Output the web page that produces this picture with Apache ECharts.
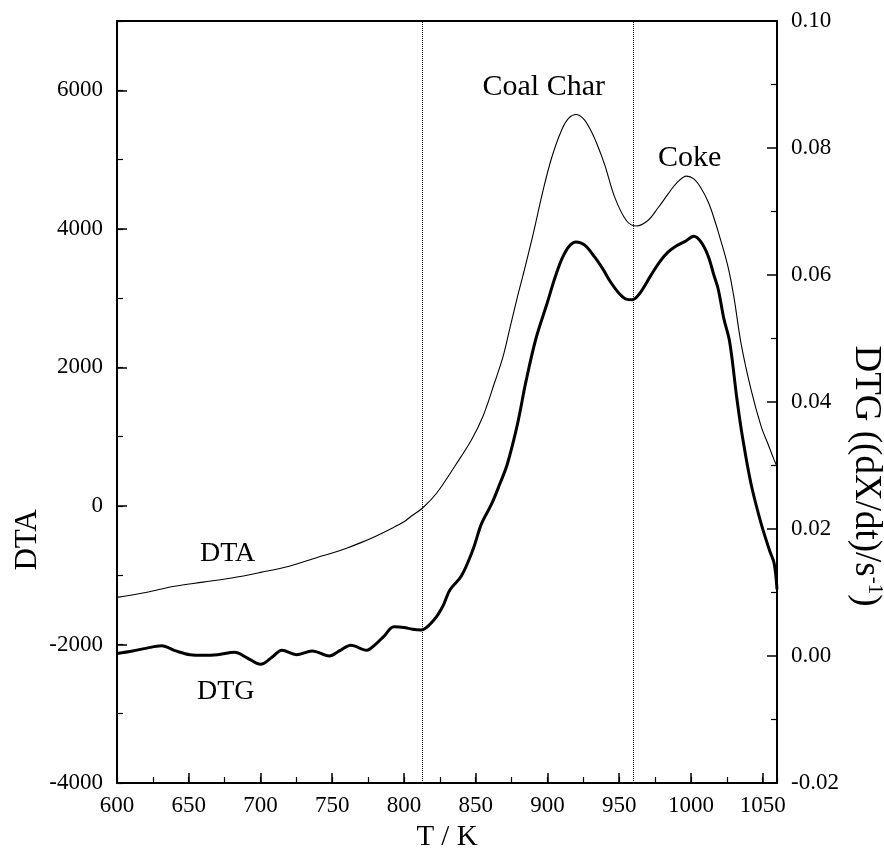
<!DOCTYPE html>
<html>
<head>
<meta charset="utf-8">
<script src="https://cdn.jsdelivr.net/npm/echarts@6/dist/echarts.min.js"></script>
<style>
html,body{margin:0;padding:0;background:#fff;}
#c{width:884px;height:857px;}
</style>
</head>
<body>
<div id="c"></div>
<script>
// ---- data ----
var dtaT = [600,620,640,660,680,700,720,740,750,760,770,780,790,800,805,813,823,836,847,855,863,869,874,879,883,890,897,903,910,915,920,925,930,935,940,947,955,962,970,977,984,990,997,1002,1007,1012,1016,1021,1026,1030,1035,1042,1049,1054,1058,1060];
var dtaV = [-1320,-1250,-1160,-1100,-1040,-960,-870,-740,-680,-610,-530,-440,-340,-230,-150,-30,190,590,950,1290,1770,2150,2580,3010,3330,3920,4560,5030,5430,5600,5650,5590,5430,5200,4920,4450,4120,4040,4120,4300,4500,4660,4760,4720,4590,4390,4160,3820,3440,3010,2340,1670,1145,880,664,570];

var dtgT = [600,611,620,631,641,651,660,670,682,690,700,708,715,725,736,748,755,763,774,780,786,793,800,806,812,821,827,832,840,848,854,861,867,872,879,885,892,900,905,910,915,920,926,933,939,944,950,955,959,964,972,978,984,990,996,1002,1007,1012,1016,1019,1023,1027,1032,1036,1042,1049,1055,1058,1060];
var dtgV = [0.0004,0.0008,0.0012,0.0016,0.0008,0.0002,0.0001,0.0002,0.0006,-0.0002,-0.0013,-0.0002,0.0009,0.0002,0.0008,0.0000,0.0008,0.0017,0.0009,0.0018,0.0031,0.0046,0.0045,0.0042,0.0041,0.0057,0.0078,0.0104,0.0126,0.0167,0.0208,0.0239,0.0272,0.0302,0.0364,0.0432,0.0500,0.0557,0.0594,0.0625,0.0645,0.0652,0.0647,0.0628,0.0608,0.0589,0.0571,0.0562,0.0561,0.0570,0.0599,0.0620,0.0636,0.0646,0.0653,0.0661,0.0652,0.0630,0.0600,0.0578,0.0531,0.0495,0.0406,0.0344,0.0270,0.0208,0.0165,0.0146,0.0105];

var markerT = [813, 960];
var xTicks = {min: 600, max: 1060, step: 50, minorStep: 25};
var yLeft = {min: -4000, max: 7000, step: 2000, minorStep: 1000};
var yRight = {min: -0.02, max: 0.10, step: 0.02};

// ---- chart ----
var FONT = '"Liberation Serif", "DejaVu Serif", serif';
var dtaData = dtaT.map(function (t, i) { return [t, dtaV[i]]; });
var dtgData = dtgT.map(function (t, i) { return [t, dtgV[i]]; });

var chart = echarts.init(document.getElementById('c'), null, {renderer: 'canvas'});

var LINE = {show: true, onZero: false, lineStyle: {color: '#000', width: 2}};
var NOLINE = {show: false, onZero: false};
var MAJOR = {show: true, inside: true, length: 10, lineStyle: {color: '#000', width: 1.5}};
var MINOR = {show: true, inside: true, length: 6, lineStyle: {color: '#000', width: 1.2}};

var xMain = {
  type: 'value', position: 'bottom', min: xTicks.min, max: xTicks.max, interval: xTicks.step,
  axisLine: LINE, axisTick: MAJOR, splitLine: {show: false},
  name: 'T / K', nameLocation: 'middle', nameGap: 40,
  nameTextStyle: {fontFamily: FONT, fontSize: 29, color: '#000'},
  axisLabel: {fontFamily: FONT, fontSize: 23, color: '#000', margin: 11,
    formatter: function (v) { return v > 1050 ? '' : String(v); }}
};
var xMinor = {
  type: 'value', position: 'bottom', min: xTicks.min, max: xTicks.max, interval: xTicks.minorStep,
  axisLine: NOLINE, axisTick: MINOR, axisLabel: {show: false}, splitLine: {show: false}
};
var xTop = {
  type: 'value', position: 'top', min: xTicks.min, max: xTicks.max,
  axisLine: LINE, axisTick: {show: false}, axisLabel: {show: false}, splitLine: {show: false}
};
var yL = {
  type: 'value', position: 'left', min: yLeft.min, max: yLeft.max, interval: yLeft.step,
  axisLine: LINE, axisTick: MAJOR, splitLine: {show: false},
  axisLabel: {fontFamily: FONT, fontSize: 23, color: '#000', margin: 14,
    formatter: function (v) { return v > 6000 ? '' : String(v); }}
};
var yLMinor = {
  type: 'value', position: 'left', min: yLeft.min, max: yLeft.max, interval: yLeft.minorStep,
  axisLine: NOLINE, axisTick: MINOR, axisLabel: {show: false}, splitLine: {show: false}
};
var yR = {
  type: 'value', position: 'right', min: yRight.min, max: yRight.max, interval: yRight.step,
  axisLine: LINE, axisTick: MAJOR, splitLine: {show: false},
  minorTick: {show: true, splitNumber: 2, length: 6, lineStyle: {color: '#000', width: 1.2}},
  axisLabel: {fontFamily: FONT, fontSize: 23, color: '#000', margin: 14,
    formatter: function (v) { return (Math.round(v * 100) / 100).toFixed(2); }}
};

var option = {
  backgroundColor: '#fff',
  animation: false,
  grid: {left: 117, right: 107, top: 21, bottom: 69, containLabel: false},
  xAxis: [xMain, xTop, xMinor],
  yAxis: [yL, yR, yLMinor],
  series: [
    {
      name: 'DTA', type: 'line', xAxisIndex: 0, yAxisIndex: 0,
      data: dtaData, showSymbol: false, smooth: 0.35,
      lineStyle: {color: '#000', width: 1.1}, silent: true,
      markLine: {
        silent: true, symbol: ['none', 'none'], label: {show: false},
        lineStyle: {color: '#000', type: 'dotted', width: 1},
        data: markerT.map(function (t) { return {xAxis: t}; })
      }
    },
    {
      name: 'DTG', type: 'line', xAxisIndex: 0, yAxisIndex: 1,
      data: dtgData, showSymbol: false, smooth: 0.35,
      lineStyle: {color: '#000', width: 3}, silent: true
    }
  ],
  graphic: [
    {type: 'text', x: 200, y: 554, style: {text: 'DTA', font: '28px ' + FONT, fill: '#000', align: 'left', verticalAlign: 'middle'}},
    {type: 'text', x: 197, y: 692, style: {text: 'DTG', font: '28px ' + FONT, fill: '#000', align: 'left', verticalAlign: 'middle'}},
    {type: 'text', x: 605, y: 87, style: {text: 'Coal Char', font: '30px ' + FONT, fill: '#000', align: 'right', verticalAlign: 'middle'}},
    {type: 'text', x: 658, y: 158, style: {text: 'Coke', font: '30px ' + FONT, fill: '#000', align: 'left', verticalAlign: 'middle'}},
    {type: 'text', x: 28, y: 540, rotation: Math.PI / 2,
      style: {text: 'DTA', font: '31px ' + FONT, fill: '#000', align: 'center', verticalAlign: 'middle'}},
    {type: 'text', x: 866, y: 476, rotation: -Math.PI / 2,
      style: {text: '{n|DTG ((dX/dt)/s}{s|-1}{n|)}', align: 'center', verticalAlign: 'middle',
        rich: {
          n: {fontFamily: FONT, fontSize: 37, fill: '#000', color: '#000', lineHeight: 38},
          s: {fontFamily: FONT, fontSize: 21, fill: '#000', color: '#000', verticalAlign: 'top', lineHeight: 38, padding: [0, 0, 14, 0]}
        }}}
  ]
};
chart.setOption(option);
</script>
</body>
</html>
